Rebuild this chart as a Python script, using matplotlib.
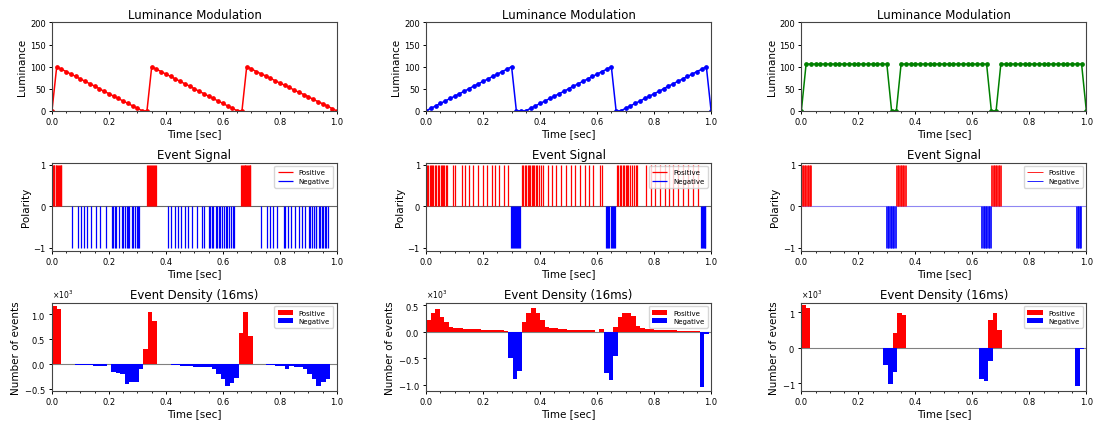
import numpy as np
import matplotlib
matplotlib.use("Agg")
import matplotlib.pyplot as plt
from matplotlib.ticker import AutoMinorLocator

# Tiempos de muestreo de la luminancia (60 fps, 1 segundo)
t_frames = np.arange(61) / 60

# Modulación de luminancia de cada estímulo
lum_red = [0, 100, 94, 89, 83, 78, 72, 67, 61, 56, 50, 44, 39, 33, 28, 22, 17, 11, 6, 0,
           0, 100, 94, 89, 83, 78, 72, 67, 61, 56, 50, 44, 39, 33, 28, 22, 17, 11, 6, 0,
           0, 100, 95, 89, 84, 79, 74, 68, 63, 58, 53, 47, 42, 37, 32, 26, 21, 16, 11, 5, 0]
lum_blue = [0, 6, 11, 17, 22, 28, 33, 39, 44, 50, 56, 61, 67, 72, 78, 83, 89, 94, 100,
            0, 0,
            0, 6, 11, 17, 22, 28, 33, 39, 44, 50, 56, 61, 67, 72, 78, 83, 89, 94, 100,
            0,
            0, 6, 11, 17, 22, 28, 33, 39, 44, 50, 56, 61, 67, 72, 78, 83, 89, 94, 100,
            0]
lum_green = [0] + [106] * 18 + [0, 0] + [106] * 19 + [0, 0] + [106] * 18 + [0]

# Tiempos de los eventos (positivos y negativos)
ev_pos_1 = [0.000, 0.003, 0.006, 0.0085, 0.0125, 0.015, 0.018, 0.0205, 0.0245, 0.027, 0.030, 0.032,
            0.335, 0.3385, 0.342, 0.3455, 0.349, 0.3525, 0.356, 0.3595, 0.363, 0.366,
            0.664, 0.667, 0.670, 0.6725, 0.6765, 0.679, 0.682, 0.6845, 0.6885, 0.691, 0.694, 0.696]
ev_neg_1 = [0.069, 0.091, 0.103, 0.113, 0.124, 0.138, 0.153, 0.170, 0.188,
            0.209, 0.213, 0.222, 0.226, 0.236, 0.244, 0.251, 0.255, 0.262, 0.266,
            0.272, 0.281, 0.285, 0.291, 0.298, 0.302, 0.307,
            0.407, 0.418, 0.430, 0.442, 0.453, 0.467, 0.479, 0.493, 0.508, 0.528,
            0.535, 0.551, 0.555, 0.563, 0.566, 0.575, 0.579, 0.586, 0.590, 0.597,
            0.603, 0.610, 0.614, 0.621, 0.628, 0.634, 0.637,
            0.733, 0.753, 0.765, 0.776, 0.788, 0.815, 0.818, 0.829, 0.840, 0.854,
            0.866, 0.878, 0.889, 0.903, 0.906, 0.914, 0.918, 0.925, 0.928, 0.936,
            0.939, 0.946, 0.951, 0.957, 0.960, 0.969]

ev_pos_2 = [0.0035, 0.007, 0.013, 0.0165, 0.022, 0.0255, 0.032, 0.0355, 0.041, 0.0445,
            0.051, 0.0545, 0.059, 0.0625, 0.069, 0.0725,
            0.096, 0.101, 0.125, 0.137, 0.150, 0.166, 0.183, 0.200, 0.215, 0.230,
            0.242, 0.257, 0.273, 0.288,
            0.337, 0.341, 0.346, 0.350, 0.356, 0.360, 0.365, 0.370, 0.374, 0.380,
            0.385, 0.390, 0.395,
            0.404, 0.411, 0.426, 0.440, 0.455, 0.475, 0.492, 0.508, 0.524, 0.539,
            0.557, 0.571, 0.586, 0.609, 0.618,
            0.671, 0.675, 0.680, 0.684, 0.690, 0.695, 0.700, 0.705, 0.710, 0.716,
            0.722, 0.728, 0.735, 0.741,
            0.772, 0.788, 0.802, 0.819, 0.837, 0.851, 0.866, 0.883, 0.901, 0.918,
            0.936, 0.953]
ev_neg_2 = [0.299, 0.3025, 0.306, 0.3095, 0.313, 0.3165, 0.320, 0.3235, 0.327, 0.3305,
            0.631, 0.6345, 0.638, 0.6415, 0.6495, 0.653, 0.6565, 0.660, 0.6635,
            0.963, 0.9665, 0.970, 0.9735, 0.977, 0.980]

ev_pos_3 = [0.002, 0.0045, 0.007, 0.0095, 0.012, 0.0145, 0.017, 0.0195, 0.022, 0.0245,
            0.027, 0.0295, 0.032, 0.0345,
            0.333, 0.3355, 0.338, 0.3405, 0.343, 0.3455, 0.348, 0.3505, 0.353, 0.3555,
            0.358, 0.3605, 0.363, 0.3655,
            0.667, 0.6695, 0.672, 0.6745, 0.677, 0.6795, 0.682, 0.6845, 0.687, 0.6895,
            0.692, 0.6945, 0.697, 0.6995]
ev_neg_3 = [0.298, 0.3005, 0.303, 0.3055, 0.308, 0.3105, 0.313, 0.3155, 0.318, 0.3205,
            0.323, 0.3255, 0.328, 0.3305,
            0.632, 0.6345, 0.637, 0.6395, 0.642, 0.6445, 0.647, 0.6495, 0.652, 0.6545,
            0.657, 0.6595, 0.662, 0.6645,
            0.964, 0.9665, 0.969, 0.9715, 0.974, 0.9765, 0.979, 0.9815]

# Densidad de eventos en bins de 16 ms (63 bins)
bin_w = 0.016
bin_left = np.arange(63) * bin_w

dens_pos_1 = [1170, 1100, 0, 0, 0, 0, 0, 0, 0, 0, 0, 0, 0, 0, 0, 0, 0, 0, 0, 0,
              300, 1050, 870, 0, 0, 0, 0, 0, 0, 0, 0, 0, 0, 0, 0, 0, 0, 0, 0, 0,
              0, 610, 1050, 560, 0, 0, 0, 0, 0, 0, 0, 0, 0, 0, 0, 0, 0, 0, 0, 0,
              0, 0, 0]
dens_neg_1 = [0, 0, 0, 0, 0, -20, -20, -30, -30, -50, -50, -50, -10, -160, -190, -210, -400, -360, -360, -100,
              0, 0, 0, 0, 0, -10, -20, -30, -40, -50, -50, -60, -60, -70, -70, -100, -200, -300, -450, -380,
              -280, 0, 0, 0, 0, 0, 0, -30, -30, -40, -40, -100, -50, -60, -70, -100, -200, -300, -450, -370,
              -300, 0, 0]

dens_pos_2 = [230, 350, 430, 280, 190, 90, 80, 70, 60, 60, 50, 50, 40, 40, 30, 30, 30, 20, 0, 0,
              0, 190, 360, 450, 350, 220, 90, 80, 70, 60, 50, 40, 40, 30, 30, 30, 30, 0, 50, 0,
              0, 90, 280, 360, 350, 310, 110, 70, 60, 50, 40, 40, 30, 30, 30, 20, 20, 20, 20, 20,
              0, 0, 0]
dens_neg_2 = [0, 0, 0, 0, 0, 0, 0, 0, 0, 0, 0, 0, 0, 0, 0, 0, 0, 0, -490, -890,
              -740, 0, 0, 0, 0, 0, 0, 0, 0, 0, 0, 0, 0, 0, 0, 0, 0, 0, 0, -770,
              -900, -460, 0, 0, 0, 0, 0, 0, 0, 0, 0, 0, 0, 0, 0, 0, 0, 0, 0, 0,
              -1040, -40, 0]

dens_pos_3 = [1190, 1120, 0, 0, 0, 0, 0, 0, 0, 0, 0, 0, 0, 0, 0, 0, 0, 0, 0, 0,
              420, 970, 920, 0, 0, 0, 0, 0, 0, 0, 0, 0, 0, 0, 0, 0, 0, 0, 0, 0,
              0, 790, 970, 510, 0, 0, 0, 0, 0, 0, 0, 0, 0, 0, 0, 0, 0, 0, 0, 0,
              0, 0, 0]
dens_neg_3 = [0, 0, 0, 0, 0, 0, 0, 0, 0, 0, 0, 0, 0, 0, 0, 0, 0, 0, -480, -1020,
              -690, 0, 0, 0, 0, 0, 0, 0, 0, 0, 0, 0, 0, 0, 0, 0, 0, 0, 0, -880,
              -930, -370, 0, 0, 0, 0, 0, 0, 0, 0, 0, 0, 0, 0, 0, 0, 0, 0, 0, 0,
              -1090, -30, 0]

plt.rcParams['font.family'] = 'DejaVu Sans'
plt.rcParams['axes.edgecolor'] = '#444444'
plt.rcParams['axes.linewidth'] = 0.8
plt.rcParams['xtick.major.size'] = 2.5
plt.rcParams['ytick.major.size'] = 2.5
plt.rcParams['xtick.minor.size'] = 1.5
plt.rcParams['xtick.major.width'] = 0.7
plt.rcParams['ytick.major.width'] = 0.7
plt.rcParams['xtick.labelsize'] = 6
plt.rcParams['ytick.labelsize'] = 6
plt.rcParams['xtick.major.pad'] = 2
plt.rcParams['ytick.major.pad'] = 2

fig = plt.figure(figsize=(10.94, 4.27), dpi=100)

col_left = [0.0475, 0.3895, 0.7325]
col_w = 0.2605
row_bottom = [0.738, 0.410, 0.082]
row_h = 0.207


def base_axis(ax, title, ylabel):
    ax.set_xlim(0, 1)
    ax.set_title(title, fontsize=8.5, pad=3)
    ax.set_xlabel("Time [sec]", fontsize=7.5, labelpad=1.5)
    ax.set_ylabel(ylabel, fontsize=7.5, labelpad=2)
    ax.xaxis.set_minor_locator(AutoMinorLocator())


def plot_luminance(ax, lum, color):
    ax.plot(t_frames, lum, color=color, lw=1.1, marker='o', markersize=2.4)
    ax.set_ylim(0, 200)
    ax.set_yticks([0, 50, 100, 150, 200])
    base_axis(ax, "Luminance Modulation", "Luminance")


def plot_events(ax, pos, neg, lw, zero_color):
    ax.axhline(0, color=zero_color, lw=0.8, zorder=0)
    ax.vlines(pos, 0, 1, color='r', lw=lw, label='Positive')
    ax.vlines(neg, -1, 0, color='b', lw=lw, label='Negative')
    ax.set_ylim(-1.08, 1.05)
    ax.set_yticks([-1, 0, 1])
    base_axis(ax, "Event Signal", "Polarity")
    ax.legend(loc='upper right', fontsize=5, handlelength=2.2,
              borderpad=0.5, labelspacing=0.4)


def plot_density(ax, dpos, dneg, ylim, yticks):
    ax.axhline(0, color='0.5', lw=0.8, zorder=0)
    ax.bar(bin_left, dpos, width=bin_w, align='edge', color='r', label='Positive')
    ax.bar(bin_left, dneg, width=bin_w, align='edge', color='b', label='Negative')
    ax.set_ylim(*ylim)
    ax.set_yticks(yticks)
    ax.ticklabel_format(axis='y', style='sci', scilimits=(3, 3), useMathText=True)
    ax.yaxis.get_offset_text().set_fontsize(5.5)
    base_axis(ax, "Event Density (16ms)", "Number of events")
    ax.legend(loc='upper right', fontsize=5, handlelength=2.2,
              borderpad=0.5, labelspacing=0.4)


lums = [(lum_red, 'r'), (lum_blue, 'b'), (lum_green, 'g')]
events = [(ev_pos_1, ev_neg_1, 0.9, '0.4'),
          (ev_pos_2, ev_neg_2, 0.9, '0.4'),
          (ev_pos_3, ev_neg_3, 0.6, '#8f86f2')]
dens = [(dens_pos_1, dens_neg_1, (-546, 1230), [-500, 0, 500, 1000]),
        (dens_pos_2, dens_neg_2, (-1114, 554), [-1000, -500, 0, 500]),
        (dens_pos_3, dens_neg_3, (-1220, 1270), [-1000, 0, 1000])]

for c in range(3):
    ax1 = fig.add_axes([col_left[c], row_bottom[0], col_w, row_h])
    plot_luminance(ax1, *lums[c])
    ax2 = fig.add_axes([col_left[c], row_bottom[1], col_w, row_h])
    plot_events(ax2, *events[c])
    ax3 = fig.add_axes([col_left[c], row_bottom[2], col_w, row_h])
    plot_density(ax3, *dens[c])

fig.savefig("out.png", dpi=100)
